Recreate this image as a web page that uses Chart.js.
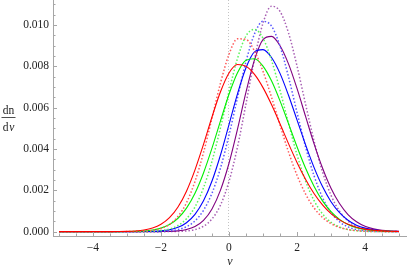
<!DOCTYPE html>
<html><head><meta charset="utf-8">
<script src="https://cdn.jsdelivr.net/npm/chart.js@4.4.1/dist/chart.umd.min.js"></script>
<style>html,body{margin:0;padding:0;background:#fff;overflow:hidden}#wrap{width:407px;height:270px;position:relative}</style>
</head><body><div id="wrap"><canvas id="c" width="407" height="270"></canvas></div>
<script>
// x values (ν)
const nu = [-5,-4.75,-4.5,-4.25,-4,-3.75,-3.5,-3.25,-3,-2.75,-2.5,-2.25,-2,-1.75,-1.5,-1.25,-1,-0.75,-0.5,-0.25,0,0.25,0.5,0.75,1,1.25,1.5,1.75,2,2.25,2.5,2.75,3,3.25,3.5,3.75,4,4.25,4.5,4.75,5];
// series values (dn/dν)
const redSolid = [0,0,0,0,0,0.0000005,0.0000016,0.0000047,0.000013,0.000033,0.000079,0.000174,0.000356,0.000676,0.001195,0.00196,0.00299,0.00422,0.00555,0.00677,0.00768,0.00809,0.00800,0.00761,0.00697,0.00615,0.00522,0.00426,0.00335,0.00254,0.00185,0.00130,0.000876,0.000569,0.000356,0.000214,0.000124,0.000069,0.000037,0.000019,0.0000096];
const redDotted = [0,0,0,0,0,0,0,0.0000006,0.0000022,0.0000074,0.000022,0.000062,0.000155,0.000354,0.000738,0.00140,0.00243,0.00382,0.00549,0.00719,0.00858,0.00933,0.00930,0.00874,0.00776,0.00651,0.00516,0.00386,0.00273,0.00183,0.00115,0.00069,0.000389,0.000208,0.000104,0.000050,0.000022,0.0000095,0.0000038,0.0000014,0.0000005];
const greenSolid = [0,0,0,0,0,0,0.0000006,0.0000018,0.0000052,0.000014,0.000034,0.000080,0.000172,0.000345,0.000649,0.00114,0.00186,0.00284,0.00404,0.00536,0.00665,0.00769,0.00830,0.00837,0.00801,0.00730,0.00633,0.00523,0.00411,0.00308,0.00220,0.00149,0.000966,0.000595,0.000349,0.000195,0.000104,0.000053,0.000025,0.000012,0.000005];
const greenDotted = [0,0,0,0,0,0,0,0,0.0000005,0.0000019,0.0000063,0.000019,0.000052,0.000130,0.000298,0.000626,0.00120,0.00212,0.00341,0.00503,0.00679,0.00838,0.00947,0.00979,0.00936,0.00830,0.00684,0.00524,0.00372,0.00246,0.00151,0.000858,0.000455,0.000223,0.000102,0.000043,0.000017,0.000006,0.000002,0,0];
const blueSolid = [0,0,0,0,0,0,0,0,0.0000005,0.0000015,0.0000049,0.000014,0.000037,0.000092,0.000208,0.000434,0.000839,0.00149,0.00245,0.00371,0.00518,0.00667,0.00793,0.00870,0.00881,0.00843,0.00766,0.00660,0.00541,0.00421,0.00311,0.00218,0.00145,0.000920,0.000553,0.000315,0.000171,0.000088,0.000043,0.000020,0.0000088];
const blueDotted = [0,0,0,0,0,0,0,0,0,0,0.0000013,0.0000045,0.000014,0.000039,0.000102,0.000240,0.000519,0.00103,0.00186,0.00308,0.00467,0.00648,0.00823,0.00957,0.01018,0.00995,0.00898,0.00749,0.00577,0.00411,0.00271,0.00165,0.000925,0.000480,0.000231,0.000102,0.000042,0.000016,0.0000056,0.0000018,0];
const purpleSolid = [0,0,0,0,0,0,0,0,0,0,0.0000003,0.0000011,0.0000039,0.000013,0.000038,0.000101,0.000248,0.000548,0.00110,0.00201,0.00331,0.00496,0.00675,0.00831,0.00929,0.00945,0.00900,0.00812,0.00693,0.00559,0.00426,0.00308,0.00210,0.00136,0.000829,0.000479,0.000262,0.000135,0.000066,0.000031,0.000013];
const purpleDotted = [0,0,0,0,0,0,0,0,0,0,0,0,0.0000007,0.0000028,0.0000103,0.000034,0.000099,0.000261,0.000613,0.00129,0.00243,0.00410,0.00619,0.00835,0.01009,0.01091,0.01066,0.00962,0.00802,0.00618,0.00440,0.00290,0.00176,0.000991,0.000515,0.000247,0.000110,0.000045,0.000017,0.000006,0.0000018];
// tick labels
const xMajorTicks = [-4,-2,0,2,4];
const xTickLabels = ['\u22124','\u22122','0','2','4'];
const yMajorTicks = [0,0.002,0.004,0.006,0.008,0.010];
const yTickLabels = ['0.000','0.002','0.004','0.006','0.008','0.010'];

const axisColor = '#a6a6a6';
const fontFam = '"Liberation Serif", "DejaVu Serif", serif';

const xMinor = []; for (let k = -10; k <= 10; k++) xMinor.push(k * 0.5);
const yMinor = []; for (let k = 0; k <= 22; k++) yMinor.push(+(k * 0.0005).toFixed(4));
const isMajor = (v, arr) => arr.findIndex(m => Math.abs(m - v) < 1e-9);

const ds = (label, arr, color, dotted) => ({
  label, data: nu.map((v, i) => ({x: v, y: arr[i]})),
  borderColor: color, borderWidth: dotted ? 1.5 : 1.1,
  borderDash: dotted ? [1.5, 2] : [],
  pointRadius: 0, cubicInterpolationMode: 'monotone', fill: false
});

const inTicks = {
  id: 'inTicks',
  afterDatasetsDraw(chart) {
    const {ctx, chartArea, scales: {x, y}} = chart;
    ctx.save();
    ctx.strokeStyle = axisColor; ctx.lineWidth = 1;
    ctx.beginPath();
    x.ticks.forEach(t => {
      const px = Math.round(x.getPixelForValue(t.value)) + 0.5;
      const len = isMajor(t.value, xMajorTicks) >= 0 ? 4 : 2.5;
      ctx.moveTo(px, chartArea.bottom); ctx.lineTo(px, chartArea.bottom - len);
    });
    y.ticks.forEach(t => {
      const py = Math.round(y.getPixelForValue(t.value)) + 0.5;
      const len = isMajor(t.value, yMajorTicks) >= 0 ? 4 : 2.5;
      ctx.moveTo(chartArea.left, py); ctx.lineTo(chartArea.left + len, py);
    });
    ctx.stroke();
    ctx.restore();
  }
};

const yLabel = {
  id: 'yLabel',
  afterDraw(chart) {
    const ctx = chart.ctx;
    ctx.save();
    ctx.fillStyle = '#222';
    ctx.textAlign = 'center';
    ctx.textBaseline = 'alphabetic';
    ctx.font = '11.5px ' + fontFam;
    ctx.fillText('dn', 8.5, 113.5);
    ctx.fillText('d', 8.5 - 3, 130.5);
    ctx.font = 'italic 11.5px ' + fontFam;
    ctx.fillText('\u03bd', 8.5 + 3.2, 130.5);
    ctx.strokeStyle = '#222'; ctx.lineWidth = 0.8;
    ctx.beginPath(); ctx.moveTo(1.5, 117.5); ctx.lineTo(15.5, 117.5); ctx.stroke();
    ctx.restore();
  }
};

new Chart(document.getElementById('c'), {
  type: 'line',
  data: {
    datasets: [
      ds('red', redSolid, '#ff0000', false),
      ds('red dotted', redDotted, '#ff5a5a', true),
      ds('green', greenSolid, '#00f000', false),
      ds('green dotted', greenDotted, '#5af55a', true),
      ds('blue', blueSolid, '#0000ff', false),
      ds('blue dotted', blueDotted, '#5a5aff', true),
      ds('purple', purpleSolid, '#800080', false),
      ds('purple dotted', purpleDotted, '#a860b4', true)
    ]
  },
  options: {
    responsive: false, animation: false, devicePixelRatio: 1,
    layout: {padding: {left: 0, right: 0, top: 0, bottom: 0}},
    plugins: {legend: {display: false}, tooltip: {enabled: false}},
    scales: {
      x: {
        type: 'linear', min: -5.176, max: 5.235,
        afterBuildTicks: s => { s.ticks = xMinor.map(v => ({value: v})); },
        afterFit: s => { s.height = 34; s.paddingLeft = 0; s.paddingRight = 0; },
        grid: {display: true, drawOnChartArea: true, drawTicks: false, lineWidth: 1,
               color: c => (c.tick && Math.abs(c.tick.value) < 1e-9) ? '#c4c4c4' : 'rgba(0,0,0,0)'},
        border: {display: true, color: axisColor, width: 1, dash: [1, 2]},
        ticks: {autoSkip: false, maxRotation: 0, padding: 5, color: '#222',
                font: {family: fontFam, size: 11.5},
                callback: v => { const k = isMajor(v, xMajorTicks); return k >= 0 ? xTickLabels[k] : ''; }},
        title: {display: true, text: '\u03bd', color: '#222', padding: {top: 0, bottom: 1},
                font: {family: fontFam, size: 12, style: 'italic'}}
      },
      y: {
        type: 'linear', min: -0.00021, max: 0.01121,
        afterBuildTicks: s => { s.ticks = yMinor.map(v => ({value: v})); },
        afterFit: s => { s.width = 53; s.paddingTop = 0; s.paddingBottom = 0; },
        grid: {display: false, drawTicks: false},
        border: {display: true, color: axisColor, width: 1},
        ticks: {autoSkip: false, padding: 4, color: '#222',
                font: {family: fontFam, size: 11.5},
                callback: v => { const k = isMajor(v, yMajorTicks); return k >= 0 ? yTickLabels[k] : ''; }}
      }
    }
  },
  plugins: [inTicks, yLabel]
});
</script>
</body></html>
